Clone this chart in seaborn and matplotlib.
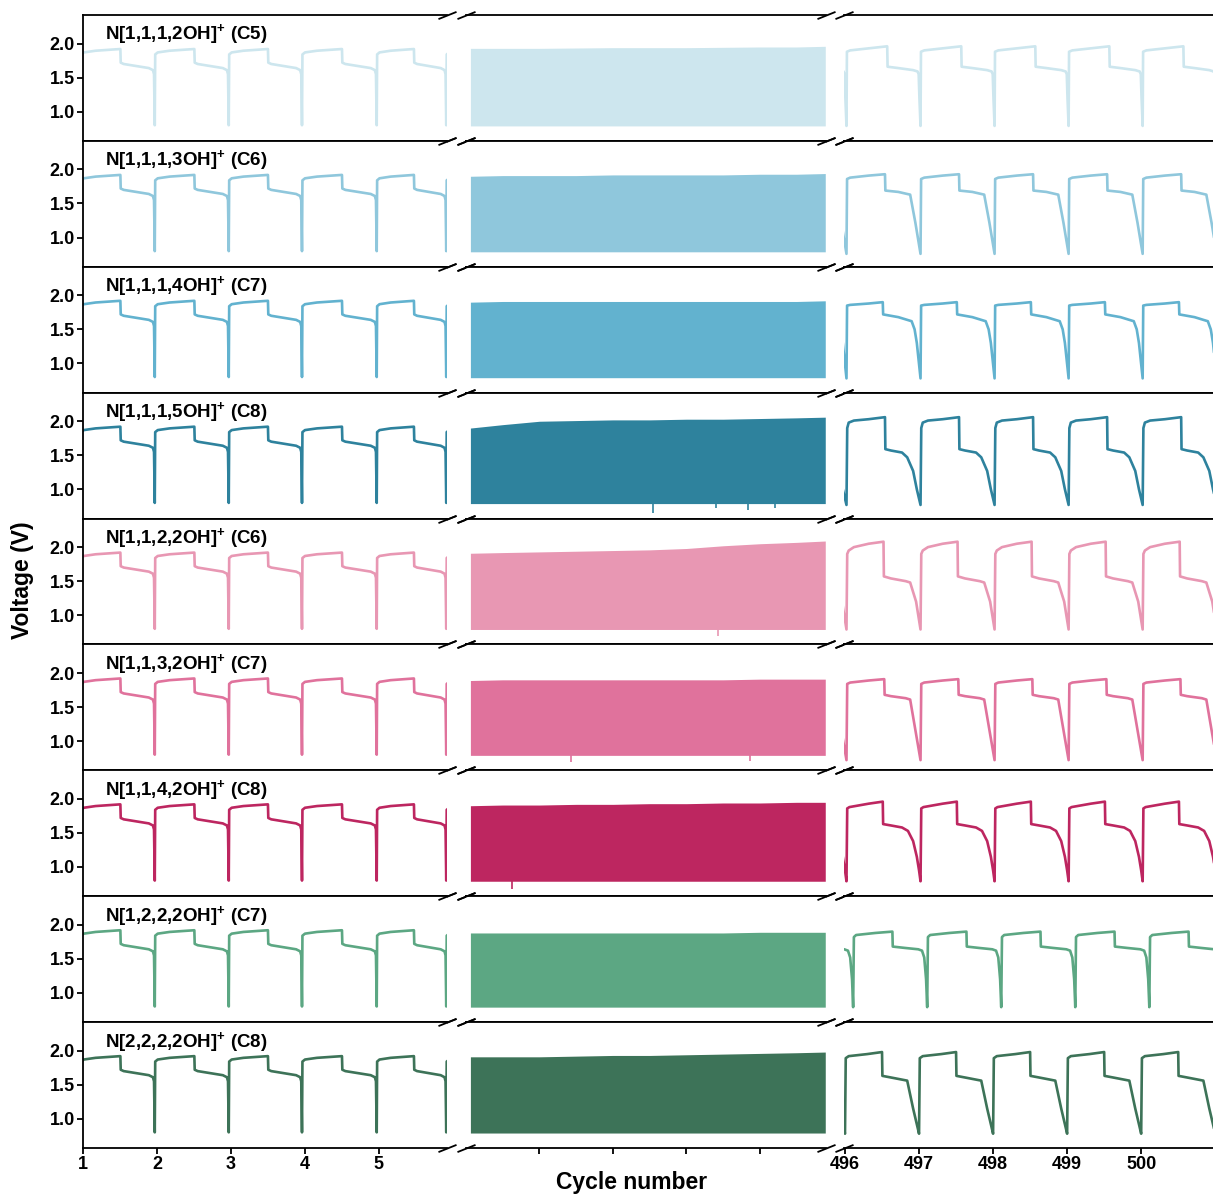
import matplotlib
matplotlib.use("Agg")
import matplotlib.pyplot as plt
import seaborn as sns

# row labels and colours (top to bottom)
labels = ["N[1,1,1,2OH]", "N[1,1,1,3OH]", "N[1,1,1,4OH]", "N[1,1,1,5OH]",
          "N[1,1,2,2OH]", "N[1,1,3,2OH]", "N[1,1,4,2OH]", "N[1,2,2,2OH]",
          "N[2,2,2,2OH]"]
chains = ["C5", "C6", "C7", "C8", "C6", "C7", "C8", "C7", "C8"]
colors = ["#cde6ee", "#8fc7dc", "#62b2cf", "#2e829d", "#e897b3",
          "#e0729c", "#bd2660", "#5ca783", "#3d7358"]

# early cycles (1-5): one voltage profile per cycle, phase = fraction of cycle
early_starts = [0.97, 1.97, 2.97, 3.96, 4.97, 5.91, 6.91]
early_ph = [0.0, 0.006, 0.04, 0.2, 0.4, 0.535, 0.54, 0.58, 0.75, 0.92, 0.975, 0.99]
early_v = [0.80, 1.84, 1.87, 1.895, 1.91, 1.92, 1.72, 1.70, 1.67, 1.64, 1.61, 1.55]

# middle block (cycles 6-495): upper envelope of the dense oscillation
mid_x = [6, 50, 100, 150, 200, 250, 300, 350, 400, 450, 489]
mid_top = [
    [1.93, 1.93, 1.93, 1.935, 1.94, 1.94, 1.94, 1.945, 1.95, 1.95, 1.96],
    [1.90, 1.91, 1.91, 1.91, 1.92, 1.92, 1.92, 1.92, 1.93, 1.93, 1.94],
    [1.90, 1.91, 1.91, 1.91, 1.91, 1.91, 1.91, 1.91, 1.91, 1.91, 1.92],
    [1.90, 1.95, 2.00, 2.01, 2.02, 2.02, 2.03, 2.03, 2.04, 2.05, 2.06],
    [1.91, 1.92, 1.93, 1.94, 1.95, 1.96, 1.98, 2.02, 2.05, 2.07, 2.09],
    [1.89, 1.90, 1.90, 1.90, 1.90, 1.90, 1.90, 1.90, 1.91, 1.91, 1.91],
    [1.90, 1.91, 1.91, 1.92, 1.92, 1.93, 1.93, 1.94, 1.94, 1.95, 1.95],
    [1.88, 1.88, 1.88, 1.88, 1.88, 1.88, 1.88, 1.88, 1.89, 1.89, 1.89],
    [1.91, 1.91, 1.91, 1.92, 1.93, 1.93, 1.94, 1.95, 1.96, 1.97, 1.98],
]
mid_low = 0.79
# occasional low spikes in the middle block: (cycle, voltage)
mid_spikes = [[], [], [], [(255, 0.65), (340, 0.72), (384, 0.70), (421, 0.72)],
              [(343, 0.70)], [(143, 0.69), (386, 0.70)], [(62, 0.67)], [], []]

# late cycles (496-500): profile per row
late_offset = [0.02, 0.02, 0.02, 0.02, 0.02, 0.02, 0.02, 0.11, 0.0]
late_ph = [
    [0, 0.006, 0.05, 0.3, 0.55, 0.555, 0.7, 0.9, 0.96, 0.975, 0.985],
    [0, 0.008, 0.05, 0.3, 0.52, 0.525, 0.7, 0.86, 0.93, 1.0],
    [0, 0.008, 0.05, 0.3, 0.49, 0.495, 0.7, 0.88, 0.92, 0.95, 1.0],
    [0, 0.01, 0.03, 0.1, 0.3, 0.52, 0.525, 0.6, 0.75, 0.82, 0.9, 0.95, 1.0],
    [0, 0.01, 0.03, 0.1, 0.3, 0.5, 0.505, 0.6, 0.8, 0.86, 0.94, 1.0],
    [0, 0.01, 0.05, 0.3, 0.51, 0.515, 0.6, 0.8, 0.86, 1.0],
    [0, 0.01, 0.04, 0.3, 0.49, 0.495, 0.6, 0.75, 0.83, 0.9, 0.95, 0.98, 1.0],
    [0, 0.01, 0.04, 0.3, 0.53, 0.535, 0.7, 0.88, 0.93, 0.96, 0.985, 1.0],
    [0, 0.01, 0.05, 0.3, 0.5, 0.505, 0.65, 0.84, 0.92, 1.0],
]
late_v = [
    [0.79, 1.88, 1.90, 1.93, 1.96, 1.66, 1.64, 1.61, 1.59, 1.55, 1.20],
    [0.76, 1.86, 1.88, 1.91, 1.93, 1.69, 1.67, 1.63, 1.22, 0.76],
    [0.78, 1.85, 1.86, 1.88, 1.90, 1.72, 1.68, 1.62, 1.50, 1.30, 0.78],
    [0.77, 1.90, 1.98, 2.01, 2.03, 2.06, 1.59, 1.57, 1.54, 1.47, 1.27, 1.00, 0.77],
    [0.79, 1.90, 1.95, 2.00, 2.05, 2.08, 1.57, 1.54, 1.50, 1.48, 1.20, 0.79],
    [0.72, 1.84, 1.86, 1.89, 1.91, 1.68, 1.66, 1.63, 1.61, 0.72],
    [0.79, 1.86, 1.88, 1.93, 1.96, 1.63, 1.61, 1.58, 1.53, 1.38, 1.15, 0.95, 0.79],
    [0.79, 1.82, 1.85, 1.88, 1.90, 1.68, 1.66, 1.64, 1.62, 1.52, 1.20, 0.79],
    [0.79, 1.89, 1.92, 1.95, 1.98, 1.63, 1.60, 1.56, 1.15, 0.78],
]


def tile(starts, ph, v):
    xs, ys = [], []
    for a, b in zip(starts[:-1], starts[1:]):
        for p, val in zip(ph, v):
            xs.append(a + p * (b - a))
            ys.append(val)
    return xs, ys


sns.set_style("ticks")
plt.rcParams['font.family'] = ['Liberation Sans', 'DejaVu Sans']
plt.rcParams['font.weight'] = 'bold'
plt.rcParams['mathtext.fontset'] = 'custom'
plt.rcParams['mathtext.bf'] = 'Liberation Sans:bold'
plt.rcParams['mathtext.rm'] = 'Liberation Sans:bold'
for k in ['text.color', 'axes.labelcolor', 'xtick.color', 'ytick.color']:
    plt.rcParams[k] = 'black'

W, H = 1213, 1195
fig = plt.figure(figsize=(W / 100, H / 100), dpi=100)

cols_px = [(83, 447), (466, 826), (844, 1213)]
xlims = [(1, 5.92), (0, 490), (496 - 1 / 74, 500.97)]
top0, row_h = 15, (1148 - 15) / 9
ylim = (0.57, 2.42)
slash = [(-1, -0.4), (1, 0.4)]

for i in range(9):
    c = colors[i]
    y0 = top0 + i * row_h
    axes = []
    for j, (l, r) in enumerate(cols_px):
        ax = fig.add_axes([l / W, 1 - (y0 + row_h) / H, (r - l) / W, row_h / H])
        ax.set_xlim(*xlims[j])
        ax.set_ylim(*ylim)
        for s in ax.spines.values():
            s.set_linewidth(1.3)
            s.set_color("black")
        ax.spines['right'].set_visible(False)
        if j > 0:
            ax.spines['left'].set_visible(False)
            ax.set_yticks([])
        else:
            ax.set_yticks([1.0, 1.5, 2.0])
            ax.set_yticklabels(["1.0", "1.5", "2.0"])
        ax.tick_params(axis='both', direction='out', length=4, width=1.3,
                       labelsize=13, pad=2)
        axes.append(ax)

    # early cycles
    xs, ys = tile(early_starts, early_ph, early_v)
    sns.lineplot(x=xs, y=ys, sort=False, estimator=None, color=c, lw=1.9, ax=axes[0])

    # middle block
    axes[1].fill_between(mid_x, mid_low, mid_top[i], color=c, lw=0)
    for sx, sv in mid_spikes[i]:
        axes[1].vlines(sx, sv, mid_low + 0.05, color=c, lw=1.2)

    # late cycles
    late_starts = [n + late_offset[i] for n in range(495, 503)]
    xs, ys = tile(late_starts, late_ph[i], late_v[i])
    sns.lineplot(x=xs, y=ys, sort=False, estimator=None, color=c, lw=1.9, ax=axes[2])

    axes[0].text(0.06, 0.84, labels[i] + r"$^{\mathbf{+}}$ (" + chains[i] + ")",
                 transform=axes[0].transAxes, fontsize=13.5, fontweight='bold',
                 va='center', ha='left')

    # x ticks only on bottom row
    if i == 8:
        axes[0].set_xticks([1, 2, 3, 4, 5])
        axes[1].set_xticks([100, 200, 300, 400])
        axes[1].set_xticklabels([])
        axes[2].set_xticks([496, 497, 498, 499, 500])
    else:
        for ax in axes:
            ax.set_xticks([])

    # break marks
    kw = dict(marker=slash, markersize=13, linestyle='none', color='k',
              mec='k', mew=1.3, clip_on=False)
    axes[0].plot([1, 1], [0, 1], transform=axes[0].transAxes, **kw)
    axes[1].plot([0, 0, 1, 1], [0, 1, 0, 1], transform=axes[1].transAxes, **kw)
    axes[2].plot([0, 0], [0, 1], transform=axes[2].transAxes, **kw)

fig.text(632 / W, 1 - 1183 / H, "Cycle number", ha='center', va='center',
         fontsize=16.5, fontweight='bold')
fig.text(22 / W, 1 - 580 / H, "Voltage (V)", ha='center', va='center',
         rotation=90, fontsize=16.5, fontweight='bold')

fig.savefig("out.png", dpi=100)
